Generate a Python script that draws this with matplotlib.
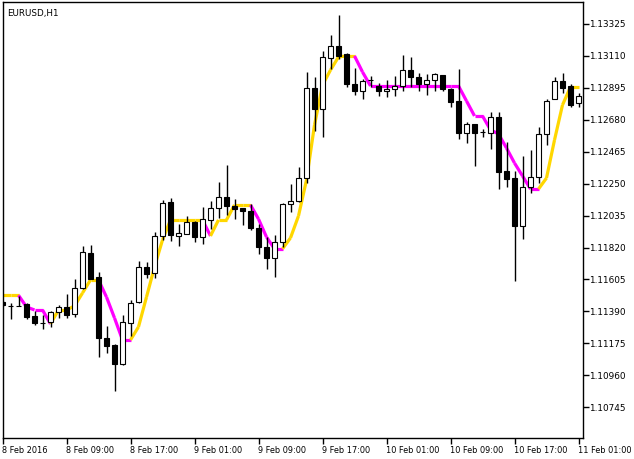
import pandas as pd
import matplotlib
matplotlib.use("Agg")
import matplotlib.pyplot as plt

# EURUSD H1 bars, 8 Feb 2016 01:00 .. 11 Feb 2016 01:00
opens = [
    1.11454, 1.11429, 1.11427, 1.11440, 1.11360, 1.11314, 1.11317, 1.11384, 1.11418, 1.11371,
    1.11546, 1.11782, 1.11620, 1.11211, 1.11164, 1.11038, 1.11310, 1.11454, 1.11689, 1.11647,
    1.11896, 1.12125, 1.11896, 1.11909, 1.11990, 1.11889, 1.12004, 1.12084, 1.12158, 1.12098,
    1.12084, 1.12064, 1.11950, 1.11822, 1.11748, 1.11856, 1.12111, 1.12132, 1.12286, 1.12892,
    1.12751, 1.13094, 1.13175, 1.13123, 1.12919, 1.12874, 1.12946, 1.12908, 1.12872, 1.12885,
    1.12908, 1.13013, 1.12966, 1.12919, 1.12946, 1.12980, 1.12885, 1.12807, 1.12589, 1.12650,
    1.12596, 1.12589, 1.12697, 1.12336, 1.12288, 1.11967, 1.12226, 1.12293, 1.12583, 1.12818,
    1.12939, 1.12908, 1.12791,
]
highs = [
    1.11460, 1.11447, 1.11494, 1.11444, 1.11393, 1.11364, 1.11393, 1.11432, 1.11506, 1.11607,
    1.11831, 1.11837, 1.11654, 1.11290, 1.11171, 1.11366, 1.11467, 1.11730, 1.11725, 1.11927,
    1.12140, 1.12156, 1.11979, 1.12031, 1.11996, 1.12091, 1.12132, 1.12259, 1.12374, 1.12145,
    1.12086, 1.12111, 1.11977, 1.11889, 1.11903, 1.12118, 1.12246, 1.12365, 1.13002, 1.12966,
    1.13143, 1.13251, 1.13386, 1.13127, 1.13027, 1.12955, 1.12975, 1.12926, 1.12948, 1.12975,
    1.13116, 1.13101, 1.12993, 1.12988, 1.12993, 1.12982, 1.12892, 1.13020, 1.12663, 1.12652,
    1.12618, 1.12731, 1.12731, 1.12529, 1.12336, 1.12435, 1.12479, 1.12630, 1.12818, 1.12966,
    1.12993, 1.12921, 1.12859,
]
lows = [
    1.11427, 1.11339, 1.11424, 1.11339, 1.11301, 1.11274, 1.11288, 1.11344, 1.11348, 1.11351,
    1.11541, 1.11605, 1.11086, 1.11112, 1.10857, 1.11032, 1.11225, 1.11445, 1.11613, 1.11613,
    1.11871, 1.11864, 1.11833, 1.11908, 1.11860, 1.11842, 1.11943, 1.12017, 1.12041, 1.12010,
    1.11972, 1.11936, 1.11775, 1.11674, 1.11620, 1.11824, 1.12058, 1.12127, 1.12253, 1.12605,
    1.12566, 1.13020, 1.13087, 1.12899, 1.12849, 1.12822, 1.12903, 1.12842, 1.12836, 1.12842,
    1.12876, 1.12899, 1.12876, 1.12849, 1.12876, 1.12876, 1.12764, 1.12549, 1.12522, 1.12371,
    1.12566, 1.12486, 1.12214, 1.12230, 1.11597, 1.11876, 1.12189, 1.12253, 1.12511, 1.12817,
    1.12863, 1.12764, 1.12764,
]
closes = [
    1.11434, 1.11429, 1.11427, 1.11355, 1.11310, 1.11314, 1.11384, 1.11418, 1.11368, 1.11546,
    1.11788, 1.11611, 1.11209, 1.11160, 1.11038, 1.11317, 1.11447, 1.11687, 1.11644, 1.11896,
    1.12118, 1.11903, 1.11916, 1.11990, 1.11889, 1.12010, 1.12084, 1.12158, 1.12098, 1.12082,
    1.12064, 1.11950, 1.11822, 1.11748, 1.11856, 1.12111, 1.12132, 1.12286, 1.12892, 1.12751,
    1.13101, 1.13175, 1.13112, 1.12919, 1.12872, 1.12941, 1.12946, 1.12876, 1.12885, 1.12906,
    1.13013, 1.12966, 1.12919, 1.12946, 1.12988, 1.12885, 1.12802, 1.12589, 1.12650, 1.12593,
    1.12596, 1.12697, 1.12331, 1.12284, 1.11967, 1.12226, 1.12293, 1.12583, 1.12805, 1.12939,
    1.12892, 1.12778, 1.12840,
]
# smoothed average line (gold when rising, magenta when falling)
ma = [
    1.11499, 1.11499, 1.11499, 1.11420, 1.11400, 1.11400, 1.11306, 1.11400, 1.11400, 1.11427,
    1.11514, 1.11602, 1.11602, 1.11487, 1.11346, 1.11198, 1.11198, 1.11286, 1.11487, 1.11689,
    1.11871, 1.12006, 1.12006, 1.12006, 1.12006, 1.12006, 1.11898, 1.12006, 1.12006, 1.12107,
    1.12107, 1.12107, 1.12012, 1.11891, 1.11811, 1.11811, 1.11885, 1.12033, 1.12275, 1.12645,
    1.12914, 1.13015, 1.13103, 1.13110, 1.13110, 1.13002, 1.12908, 1.12908, 1.12908, 1.12908,
    1.12908, 1.12908, 1.12908, 1.12908, 1.12908, 1.12908, 1.12908, 1.12908, 1.12807, 1.12706,
    1.12706, 1.12612, 1.12585, 1.12490, 1.12389, 1.12302, 1.12214, 1.12214, 1.12288, 1.12544,
    1.12780, 1.12901, 1.12901,
]
price_ticks = [1.13325, 1.13110, 1.12895, 1.12680, 1.12465, 1.12250, 1.12035,
               1.11820, 1.11605, 1.11390, 1.11175, 1.10960, 1.10745]

times = pd.date_range("2016-02-08 01:00", periods=len(opens), freq="h")
xs = list(range(len(opens)))

fig = plt.figure(figsize=(6.34, 4.59), dpi=100)
ax = fig.add_axes([2.5 / 634, 21 / 459, 580 / 634, 436 / 459])

# indicator line, one segment per bar
color = "#FFD700"
for i in range(1, len(ma)):
    if ma[i] > ma[i - 1]:
        color = "#FFD700"
    elif ma[i] < ma[i - 1]:
        color = "#FF00FF"
    ax.plot([i - 1, i], [ma[i - 1], ma[i]], color=color, lw=2.3,
            solid_capstyle="butt", zorder=2)

# candles
ax.vlines(xs, lows, highs, color="black", lw=1, zorder=3)
for x, o, c in zip(xs, opens, closes):
    up = c >= o
    ax.bar(x, abs(c - o), bottom=min(o, c), width=0.62,
           color="white" if up else "black", edgecolor="black", lw=0.8, zorder=4)

ax.set_xlim(0, 72.5)
ax.set_ylim(1.10538, 1.13473)

# axes decoration, MetaTrader style
ax.yaxis.tick_right()
ax.set_yticks(price_ticks)
ax.set_yticklabels([f"{p:.5f}" for p in price_ticks])
tick_idx = xs[::8]
ax.set_xticks(tick_idx)
labels = []
for k in tick_idx:
    t = times[k]
    if k == 0:
        labels.append(f"{t.day} {t:%b %Y}")
    else:
        labels.append(f"{t.day} {t:%b %H:%M}")
ax.set_xticklabels(labels, ha="left")
ax.tick_params(axis="both", direction="out", length=4, width=1,
               colors="black")
ax.tick_params(axis="y", labelsize=6.4, pad=1.0)
ax.tick_params(axis="x", labelsize=5.9, pad=1.5)
for sp in ax.spines.values():
    sp.set_linewidth(1)

ax.text(0.008, 0.985, "EURUSD,H1", transform=ax.transAxes, fontsize=6.3,
        va="top", ha="left")

fig.savefig("out.png", dpi=100)
